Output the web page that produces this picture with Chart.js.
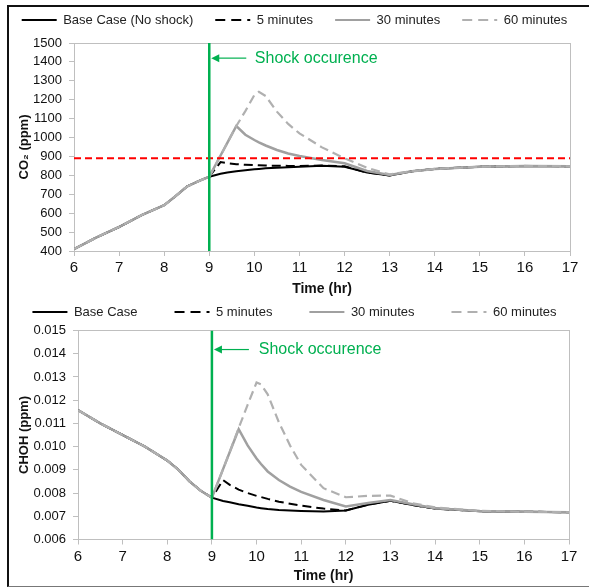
<!DOCTYPE html>
<html>
<head>
<meta charset="utf-8">
<script src="https://cdn.jsdelivr.net/npm/chart.js@4.4.1/dist/chart.umd.min.js"></script>
<style>
  html, body { margin: 0; padding: 0; background: #fff; }
  #wrap { position: relative; width: 589px; height: 588px; overflow: hidden; }
  canvas { position: absolute; left: -20px; }
  #top { top: 0; }
  #bottom { top: 298px; }
  #frame {
    position: absolute; left: 7px; top: 5px; width: 600px; height: 579px;
    border-top: 2px solid #111; border-left: 2px solid #111; border-bottom: 1px solid #777;
    pointer-events: none;
  }
</style>
</head>
<body>
<div id="wrap">
  <canvas id="top" width="629" height="298"></canvas>
  <canvas id="bottom" width="629" height="290"></canvas>
  <div id="frame"></div>
</div>
<script>
// --- data ---
const timeHr = [6, 6.5, 7, 7.5, 8, 8.25, 8.5, 8.75, 9, 9.25, 9.4, 9.6, 9.8, 10, 10.1, 10.25,
  10.5, 10.75, 11, 11.5, 12, 12.5, 13, 13.5, 14, 15, 16, 17];

const co2Base = [410, 472, 527, 590, 642, 690, 740, 768, 793, 808, 815, 822, 827, 832, 834, 837,
  840, 843, 846, 851, 846, 815, 800, 822, 834, 846, 850, 848];
const co2Shock5 = [410, 472, 527, 590, 642, 690, 740, 768, 793, 870, 864, 859, 856, 854, 853, 852,
  851, 850, 850, 852, 848, 815, 800, 822, 834, 846, 850, 848];
const co2Shock30 = [410, 472, 527, 590, 642, 690, 740, 768, 793, 905, 972, 1061, 1015, 987, 975, 958,
  934, 916, 902, 881, 864, 823, 802, 822, 834, 846, 850, 848];
const co2Shock60 = [410, 472, 527, 590, 642, 690, 740, 768, 793, 905, 972, 1061, 1140, 1225, 1242, 1220,
  1137, 1072, 1022, 948, 890, 840, 805, 822, 834, 846, 850, 848];
const co2Limit = 890;

const chohBase = [0.01157, 0.0110, 0.0105, 0.0100, 0.0094, 0.0090, 0.0085, 0.0081, 0.0078, 0.00766,
  0.0076, 0.00752, 0.00745, 0.00738, 0.00735, 0.00731, 0.00727, 0.00725, 0.00723, 0.00721, 0.00725,
  0.0075, 0.00767, 0.00748, 0.00733, 0.00722, 0.0072, 0.00717];
const chohShock5 = [0.01157, 0.0110, 0.0105, 0.0100, 0.0094, 0.0090, 0.0085, 0.0081, 0.0078, 0.00856,
  0.00835, 0.00815, 0.0080, 0.00788, 0.00783, 0.00775, 0.00763, 0.00754, 0.00746, 0.00733, 0.00725,
  0.0075, 0.00767, 0.00748, 0.00733, 0.00722, 0.0072, 0.00717];
const chohShock30 = [0.01157, 0.0110, 0.0105, 0.0100, 0.0094, 0.0090, 0.0085, 0.0081, 0.0078, 0.00903,
  0.00977, 0.01075, 0.01005, 0.00949, 0.00925, 0.00893, 0.00856, 0.00828, 0.00805, 0.0077, 0.00742,
  0.00757, 0.0077, 0.00752, 0.00735, 0.00723, 0.0072, 0.00717];
const chohShock60 = [0.01157, 0.0110, 0.0105, 0.0100, 0.0094, 0.0090, 0.0085, 0.0081, 0.0078, 0.00903,
  0.00977, 0.0108, 0.0118, 0.01276, 0.01268, 0.01225, 0.01105, 0.01005, 0.00921, 0.00821, 0.00782,
  0.00788, 0.00789, 0.00756, 0.00738, 0.00723, 0.0072, 0.00717];

const shockTime = 9;

// --- style ---
const FONT = "'Liberation Sans', Arial, sans-serif";
const GREEN = '#00b050';
Chart.defaults.font.family = FONT;
Chart.defaults.color = '#222';
const AXIS_GREY = '#bfbfbf';

function pts(arr) {
  return timeHr.map((t, i) => ({ x: t, y: arr[i] }));
}

// arrow + "Shock occurence" text next to the green line
function shockNote(arrowValue, textTime) {
  return {
    id: 'shockNote',
    afterDatasetsDraw(chart) {
      const { ctx, scales: { x, y } } = chart;
      const x0 = x.getPixelForValue(shockTime) + 2;
      const yy = y.getPixelForValue(arrowValue);
      ctx.save();
      ctx.strokeStyle = GREEN;
      ctx.fillStyle = GREEN;
      ctx.lineWidth = 1.2;
      ctx.beginPath();
      ctx.moveTo(x0 + 6, yy);
      ctx.lineTo(x0 + 35, yy);
      ctx.stroke();
      ctx.beginPath();
      ctx.moveTo(x0, yy);
      ctx.lineTo(x0 + 8, yy - 4);
      ctx.lineTo(x0 + 8, yy + 4);
      ctx.closePath();
      ctx.fill();
      ctx.font = '16px ' + FONT;
      ctx.textBaseline = 'middle';
      ctx.fillText('Shock occurence', x.getPixelForValue(textTime), yy);
      ctx.restore();
    }
  };
}

// legend samples: line with the dataset's colour, width and dash
function legendLabels(chart) {
  const items = Chart.defaults.plugins.legend.labels.generateLabels(chart);
  return items.map((item) => {
    const ds = chart.data.datasets[item.datasetIndex];
    item.strokeStyle = ds.borderColor;
    item.lineWidth = ds.datasetIndex === 2 ? 2 : Math.min(ds.borderWidth, 2);
    item.lineDash = ds.borderDash ? [10, 6] : [];
    item.pointStyle = 'line';
    return item;
  });
}

function buildChart(canvas, o) {
  const datasets = [
    { label: o.labels[0], data: pts(o.series[0]), borderColor: '#000', borderWidth: 2, order: 4 },
    { label: o.labels[1], data: pts(o.series[1]), borderColor: '#000', borderWidth: 2, borderDash: [9, 5], order: 3 },
    { label: o.labels[2], data: pts(o.series[2]), borderColor: '#a0a0a0', borderWidth: 2.5, order: 2 },
    { label: o.labels[3], data: pts(o.series[3]), borderColor: '#b0b0b0', borderWidth: 2.2, borderDash: [9, 5], order: 1 },
    { label: 'shock', data: [{ x: shockTime, y: o.yMin }, { x: shockTime, y: o.yMax }],
      borderColor: GREEN, borderWidth: 2.5, order: 0 }
  ];
  if (o.limit !== undefined) {
    datasets.push({ label: 'limit', data: [{ x: 6, y: o.limit }, { x: 17, y: o.limit }],
      borderColor: '#ff0000', borderWidth: 2, borderDash: [7, 4], order: 0 });
  }

  return new Chart(canvas.getContext('2d'), {
    type: 'line',
    data: { datasets },
    options: {
      responsive: false,
      animation: false,
      devicePixelRatio: 1,
      layout: { padding: { top: o.padTop, left: 0, right: 0, bottom: 0 } },
      elements: { point: { radius: 0 }, line: { tension: 0, fill: false } },
      scales: {
        x: {
          type: 'linear', min: 6, max: 17,
          ticks: { stepSize: 1, padding: 3, font: { size: 15 }, color: '#111' },
          grid: { drawOnChartArea: false, tickLength: 5, color: AXIS_GREY },
          border: { color: AXIS_GREY },
          title: { display: true, text: 'Time (hr)', font: { size: 14, weight: 'bold' }, color: '#111',
            padding: { top: 0, bottom: o.xTitlePad } },
          afterFit: (s) => { s.height = o.xAxisHeight; }
        },
        y: {
          min: o.yMin, max: o.yMax,
          ticks: { stepSize: o.yStep, autoSkip: false, padding: 7, font: { size: 13 }, color: '#111', callback: o.fmt },
          grid: { drawOnChartArea: false, tickLength: 5, color: AXIS_GREY },
          border: { color: AXIS_GREY },
          title: { display: true, text: o.yTitle, font: { size: 13, weight: 'bold' }, color: '#111',
            padding: { top: o.yTitlePad, bottom: 0 } },
          afterFit: (s) => { s.width = o.yAxisWidth; }
        },
        x2: {
          type: 'linear', position: 'top', min: 6, max: 17,
          ticks: { display: false },
          grid: { drawOnChartArea: false, drawTicks: false, color: AXIS_GREY },
          border: { color: AXIS_GREY },
          afterFit: (s) => { s.height = o.topGap; }
        },
        y2: {
          position: 'right',
          ticks: { display: false },
          grid: { drawOnChartArea: false, drawTicks: false, color: AXIS_GREY },
          border: { color: AXIS_GREY },
          afterFit: (s) => { s.width = o.rightWidth; }
        }
      },
      plugins: {
        legend: {
          position: 'top',
          labels: {
            usePointStyle: true,
            pointStyle: 'line',
            pointStyleWidth: 35,
            padding: o.legendPad,
            font: { size: 13 },
            color: '#222',
            generateLabels: legendLabels,
            filter: (item) => item.datasetIndex < 4,
            sort: (a, b) => a.datasetIndex - b.datasetIndex
          }
        },
        tooltip: { enabled: false }
      }
    },
    plugins: [shockNote(o.arrowValue, o.textTime)]
  });
}

// canvases start 20px left of the page, so widths below include that offset
buildChart(document.getElementById('top'), {
  labels: ['Base Case (No shock)', '5 minutes', '30 minutes', '60 minutes'],
  series: [co2Base, co2Shock5, co2Shock30, co2Shock60],
  limit: co2Limit,
  yMin: 400, yMax: 1500, yStep: 100,
  fmt: (v) => v,
  yTitle: 'CO\u2082 (ppm)',
  padTop: -8.5, legendPad: 22, topGap: 6.5,
  xAxisHeight: 47, xTitlePad: 0,
  yAxisWidth: 94, yTitlePad: 37, rightWidth: 39,
  arrowValue: 1420, textTime: 10.01
});

buildChart(document.getElementById('bottom'), {
  labels: ['Base Case', '5 minutes', '30 minutes', '60 minutes'],
  series: [chohBase, chohShock5, chohShock30, chohShock60],
  yMin: 0.006, yMax: 0.015, yStep: 0.001,
  fmt: (v) => v.toFixed(3),
  yTitle: 'CHOH (ppm)',
  padTop: -29.5, legendPad: 37, topGap: 2,
  xAxisHeight: 48.5, xTitlePad: 3.6,
  yAxisWidth: 98, yTitlePad: 37, rightWidth: 40,
  arrowValue: 0.01418, textTime: 10.05
});
</script>
</body>
</html>
